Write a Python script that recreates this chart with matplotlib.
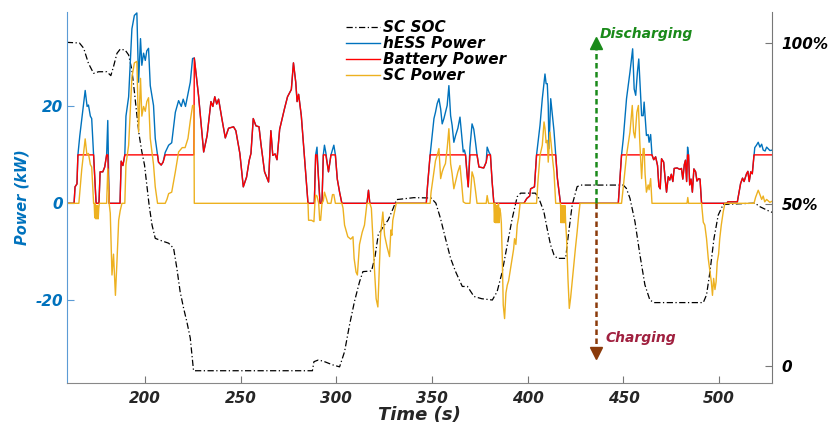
from __future__ import annotations

import matplotlib

matplotlib.use("Agg")
import matplotlib.pyplot as plt


# (time s, kW) samples for each power trace, (time s, %) for the supercapacitor SOC
HESS_POINTS = [
    (159, 0), (163, 0), (163.5, 3.4), (164.5, 4), (165, 10), (166, 14), (167.5, 19), (168.8, 23.3),
    (169.8, 20), (170.5, 20.3), (171.5, 18), (172.2, 17.5), (173.2, 10), (174.5, 0), (176, 0),
    (176.6, 6.5), (178, 6.5), (179, 7.5), (180, 10), (180.6, 17.1), (181.3, 0), (187, 0),
    (187.6, 8.7), (188.5, 7.8), (189.5, 10), (190.1, 18), (191.5, 22), (193.2, 36), (194.5, 38.8),
    (195.8, 39.3), (196.7, 25), (197.7, 34), (198.4, 28.5), (199.3, 31), (200.2, 29.5), (201, 31.5),
    (201.9, 32), (202.8, 24.3), (204.5, 20.2), (205.4, 13.4), (206.6, 10), (207.1, 8.5), (208.5, 7.9),
    (209.5, 8.5), (210.6, 10.5), (212.4, 12), (214, 12.5), (215.9, 18.8), (217.6, 21.2), (219, 20),
    (220, 21.5), (221.2, 20), (222.5, 22.6), (223.7, 25), (224.9, 29.9), (225.8, 30), (228, 22.3),
    (230.7, 10.6), (232.5, 14), (234.5, 21), (235.5, 20), (236.5, 22), (237.5, 20.5), (238.5, 21.5),
    (240.2, 17.5), (242, 13.5), (243.7, 15.5), (246.3, 15.8), (247.5, 15), (249.6, 10.3), (251.4, 3.4),
    (253.1, 5.4), (254.5, 8.9), (255.4, 10.3), (256.6, 17.5), (258, 16), (259.6, 15.8), (260.7, 12),
    (262.5, 6.5), (264.6, 4.4), (265.8, 15), (266.8, 9.9), (268, 10.2), (269, 9), (270.4, 15.3),
    (272.9, 19.5), (274.5, 22), (276.5, 23.5), (277.6, 29), (278.8, 25), (279.5, 21), (280.3, 22.5),
    (281.7, 18.1), (283.4, 9.2), (285.2, 0), (288.5, 0), (289.2, 10), (289.9, 11.6), (290.8, 4.4),
    (291.5, 0), (292.5, 0), (293.2, 10), (293.8, 12), (294.5, 10.5), (295.9, 6.5), (297.2, 10),
    (298.7, 12), (299.5, 10), (300.5, 5), (301.7, 2.3), (302.9, 0), (316, 0), (316.8, 2.7),
    (317.5, 0), (347, 0), (347.6, 3.4), (349, 10), (351, 17.5), (351.8, 18.8), (352.7, 20.6),
    (353.6, 21.6), (354.5, 19.5), (355.3, 16.4), (356.2, 17.5), (357, 18.8), (357.9, 20.2),
    (358.8, 24.3), (359.7, 18.1), (360.5, 16.1), (361.4, 12.6), (362.3, 14), (363.5, 15.5),
    (364.6, 17.8), (365.5, 14), (366.3, 10.6), (366.9, 11), (367.5, 10), (368.2, 6.5), (368.9, 3.4),
    (369.8, 11.5), (370.9, 16.4), (371.8, 15.3), (372.7, 12.6), (373.5, 10), (374.5, 7.5), (377, 7.3),
    (378.3, 8.5), (378.8, 11.6), (379.8, 10.5), (380.5, 10), (381.4, 4.4), (382.3, 0), (398, 0),
    (399.5, 1), (401, 1.5), (401.5, 3), (403.5, 3.4), (404.6, 10), (406.4, 16.1), (407.6, 21.6),
    (408.5, 25), (409, 26.7), (409.6, 24.7), (410.2, 24.7), (410.7, 20.2), (411.1, 11.3), (412, 21.6),
    (412.9, 18), (413.7, 15), (414.6, 10), (415.5, 5.1), (417.1, 0), (447.3, 0), (449, 10),
    (449.9, 13.3), (451.6, 21.6), (453.4, 27.1), (454.2, 29.8), (454.8, 31.9), (455.6, 23.6),
    (456.4, 22.3), (457.3, 27.1), (458, 29.8), (458.5, 26), (459.5, 18.1), (460.3, 18.1),
    (460.8, 20.9), (461.3, 18.1), (462, 14), (462.9, 14.2), (463.4, 12.6), (464.2, 14.2), (464.9, 10),
    (465.8, 9), (466.8, 9.6), (467.8, 7.8), (468.5, 3.5), (469.2, 3.0), (469.9, 9.2), (471, 8.5),
    (471.8, 5), (472.5, 2.3), (473.4, 5.5), (474.2, 4.8), (475, 6), (475.8, 4.5), (476.5, 7.2),
    (478, 7.3), (479.5, 7), (480.3, 7.2), (481, 5), (481.8, 8), (482.4, 8.9), (483, 4.5),
    (483.5, 11.6), (484, 10), (484.6, 3.8), (485.3, 5), (486, 2.3), (486.8, 7.1), (487.7, 6.5),
    (488.4, 4.6), (489.3, 5.1), (490, 5), (490.8, 0), (504, 0), (504.5, 0.3), (509.5, 0.3),
    (510.4, 2.3), (511.2, 4.1), (512.2, 5.2), (513, 4.5), (514.3, 6.1), (515, 6.6), (515.7, 4.5),
    (516.5, 6.5), (517.3, 6.1), (518.2, 10), (518.6, 11.5), (519.5, 12), (520.4, 12.6), (521.3, 11.6),
    (522.2, 12.2), (523, 11), (524, 10.8), (524.8, 11.6), (526.5, 10.9), (528, 11),
]

BATTERY_POINTS = [
    (159, 0), (163, 0), (163.5, 3.4), (164.5, 4), (165, 10), (173.2, 10), (174.5, 0), (176, 0),
    (176.6, 6.5), (178, 6.5), (179, 7.5), (180, 10), (180.6, 10), (181.3, 0), (187, 0), (187.6, 8.7),
    (188.5, 7.8), (189.5, 10), (206.6, 10), (207.1, 8.5), (208.5, 7.9), (209.5, 8.5), (210.6, 10),
    (225.6, 10), (225.8, 30), (228, 22.3), (230.7, 10.6), (232.5, 14), (234.5, 21), (235.5, 20),
    (236.5, 22), (237.5, 20.5), (238.5, 21.5), (240.2, 17.5), (242, 13.5), (243.7, 15.5),
    (246.3, 15.8), (247.5, 15), (249.6, 10.3), (251.4, 3.4), (253.1, 5.4), (254.5, 8.9), (255.4, 10.3),
    (256.6, 17.5), (258, 16), (259.6, 15.8), (260.7, 12), (262.5, 6.5), (264.6, 4.4), (265.8, 15),
    (266.8, 9.9), (268, 10.2), (269, 9), (270.4, 15.3), (272.9, 19.5), (274.5, 22), (276.5, 23.5),
    (277.6, 29), (278.8, 25), (279.5, 21), (280.3, 22.5), (281.7, 18.1), (283.4, 9.2), (285.2, 0),
    (288.5, 0), (289.2, 10), (289.9, 10), (290.8, 4.4), (291.5, 0), (292.5, 0), (293.2, 10),
    (294.5, 10), (295.9, 6.5), (297.2, 10), (299.5, 10), (300.5, 5), (301.7, 2.3), (302.9, 0),
    (316, 0), (316.8, 2.7), (317.5, 0), (347, 0), (347.6, 3.4), (349, 10), (367.5, 10), (368.2, 6.5),
    (368.9, 3.4), (369.8, 10), (373.5, 10), (374.5, 7.5), (377, 7.3), (378.3, 8.5), (379, 10),
    (380.5, 10), (381.4, 4.4), (382.3, 0), (398, 0), (399.5, 1), (401, 1.5), (401.5, 3), (403.5, 3.4),
    (404.6, 10), (414.6, 10), (415.5, 5.1), (417.1, 0), (447.3, 0), (449, 10), (464.9, 10),
    (465.8, 9), (466.8, 9.6), (467.8, 7.8), (468.5, 3.5), (469.2, 3.0), (469.9, 9.2), (471, 8.5),
    (471.8, 5), (472.5, 2.3), (473.4, 5.5), (474.2, 4.8), (475, 6), (475.8, 4.5), (476.5, 7.2),
    (478, 7.3), (479.5, 7), (480.3, 7.2), (481, 5), (481.8, 8), (482.4, 8.9), (483, 4.5), (483.5, 10),
    (484, 10), (484.6, 3.8), (485.3, 5), (486, 2.3), (486.8, 7.1), (487.7, 6.5), (488.4, 4.6),
    (489.3, 5.1), (490, 5), (490.8, 0), (504, 0), (504.5, 0.3), (509.5, 0.3), (510.4, 2.3),
    (511.2, 4.1), (512.2, 5.2), (513, 4.5), (514.3, 6.1), (515, 6.6), (515.7, 4.5), (516.5, 6.5),
    (517.3, 6.1), (518.2, 10), (528, 10),
]

SC_POINTS = [
    (159, 0), (165.5, 0), (167, 7), (168.8, 13.3), (169.7, 10), (170.5, 10.3), (171.5, 8),
    (172.2, 7.5), (173.2, 0), (173.5, 0), (173.8, -3), (174.1, 0), (174.4, -3.2), (174.7, -0.5),
    (175, -3.2), (175.3, -0.5), (175.6, -3.2), (175.9, -1), (176.2, 0), (180, 0), (180.6, 7.1),
    (181.3, 0), (181.9, -2), (182.8, -14.8), (183.6, -10.5), (184.6, -19), (185.4, -12),
    (186.3, -3.5), (187.1, -1.5), (188, 0), (189.5, 0), (190.1, 8), (191.5, 12), (193.2, 26),
    (194.5, 29), (195.8, 29.3), (196.7, 14.7), (197.7, 25.8), (198.4, 18), (199.3, 20), (200.2, 19),
    (201, 21), (201.9, 21.8), (202.8, 13.4), (204.5, 8), (205.4, 3.4), (206.6, 0), (210.6, 0),
    (211.5, 0.8), (212.4, 2), (214, 2.3), (215.9, 6.5), (217.6, 10.6), (219.5, 11.5), (221, 11.5),
    (222.5, 13.4), (223.7, 17), (224.9, 20.2), (225.6, 20.2), (225.8, 0), (285.2, 0), (285.5, -3.5),
    (287, -3.5), (288.3, -3.8), (288.8, 0), (289.2, 1.7), (289.9, 1.5), (290.8, 0), (291.3, -3.5),
    (291.8, -3.5), (292.5, 0), (293.2, 0.5), (293.8, 2.3), (294.8, 1), (295.5, 0), (297.2, 0),
    (298, 1.8), (298.7, 1.8), (299.5, 0), (302.9, 0), (303.5, -1), (304.3, -4.5), (306, -6.9),
    (307.5, -7.4), (308.7, -6.9), (309.3, -11.4), (310.3, -14.2), (311, -14.8), (312.1, -8.5),
    (313.5, -6), (314.7, -4.5), (316, 0), (317.5, 0), (318.3, -1), (319.1, -7.3), (320, -14.2),
    (320.8, -19.7), (321.7, -21.4), (322.4, -14), (323.1, -6.6), (324.3, -1.8), (325.2, -6.6),
    (326.5, -9), (327.8, -11), (328.5, -5.5), (329, -6.6), (329.5, -3.5), (331.3, 0), (349, 0),
    (349.5, 2.3), (351, 6.5), (351.8, 8.8), (352.7, 9.9), (353.6, 11.3), (354.5, 5.1), (355.3, 6.5),
    (356.2, 7.5), (357, 8.2), (357.9, 11.3), (358.8, 15.4), (359.7, 8.2), (360.5, 6.1), (361.4, 3),
    (362.3, 4.5), (363.5, 6.5), (364.6, 7.8), (365.5, 4), (366.3, 0.3), (367.5, 0), (369.8, 0),
    (370.9, 6.5), (371.8, 5.3), (372.7, 2.6), (373.5, 0), (378.3, 0), (378.8, 1.6), (379.5, 0),
    (382.3, 0), (382.6, -3.9), (382.9, 0), (383.2, -4), (383.5, -0.5), (383.8, -4), (384.1, -0.5),
    (384.4, -4), (384.7, 0), (385, -4), (385.3, -1), (385.8, -2), (386.2, -4), (386.7, -11.4),
    (387.2, -21), (387.9, -23.8), (388.6, -18.5), (389.3, -16.9), (390, -16), (391, -13.5),
    (391.8, -11.5), (392.6, -9.5), (393.1, -7.3), (393.8, -8.5), (394.5, -4.5), (395.2, -3), (396, 0),
    (404.6, 0), (405.3, 4.4), (406.4, 9.9), (407.6, 12), (408.5, 16.8), (409, 15.5), (409.6, 12.5),
    (410.2, 13), (410.7, 8.5), (411.1, 11.3), (411.6, 14.7), (412.3, 12), (413, 9), (413.7, 6.5),
    (414.6, 0), (417.1, 0), (417.4, -4), (417.7, -0.5), (418, -4), (418.3, -0.5), (418.6, -4),
    (418.9, -0.5), (419.2, -4), (419.5, -0.5), (419.8, -4), (420.3, -7.3), (421, -15.5),
    (421.7, -21.7), (422.4, -19.5), (423.2, -16.2), (424, -13), (424.9, -9.3), (425.8, -5.9),
    (426.6, -2.5), (427.3, 0), (449, 0), (449.9, 3.3), (451.6, 9.9), (453.4, 14.7), (454.6, 20.2),
    (455.3, 14.7), (456, 13.5), (457, 18.8), (457.8, 20.2), (458.5, 13), (459.5, 5.1), (460.3, 11.3),
    (460.8, 11.3), (461.3, 6), (462, 2.3), (462.9, 3.8), (463.4, 2.8), (464.2, 5.1), (464.9, 0),
    (483.2, 0), (483.6, 1.2), (484, 0), (490.8, 0), (491.7, -3.9), (492.5, -4.5), (493.4, -7.3),
    (494.3, -11.4), (495.2, -14.2), (495.9, -16.2), (496.5, -19), (497.1, -15.5), (497.8, -17.8),
    (498.4, -16.2), (499, -12.1), (499.7, -10.5), (500.3, -7.3), (501.1, -4.5), (502.1, -1.8),
    (503, 0), (518.2, 0), (519, 1.2), (520.4, 2.7), (521.3, 1.8), (522.2, 0.8), (523, 1.5),
    (523.8, 0.3), (524.8, 0.8), (526.5, 0.2), (528, 0.5),
]

SOC_POINTS = [
    (159.2, 100.2), (165.8, 100), (168, 98.4), (170.5, 93.7), (173.2, 90.6), (175.8, 91.1),
    (180.1, 91.1), (182.2, 89.9), (183.6, 92.7), (185.4, 96.8), (187.1, 98.1), (189.7, 97.8),
    (191.5, 96.3), (193.2, 91.6), (194.6, 84.4), (195.8, 77.7), (197, 71.5), (198.4, 66.3),
    (199.8, 62.2), (201, 56), (202.2, 49.8), (203.7, 43.7), (205.4, 39.5), (208.9, 38.7),
    (212.4, 38), (215, 36.4), (216.7, 30.2), (218.4, 23), (220.2, 17.9), (221.9, 13.7),
    (223.7, 8.6), (225.4, -1.5), (287.5, -1.5), (288.3, 1.3), (290.5, 1.8), (293, 1.5), (296, 0.8),
    (298.2, 0.3), (301.7, -0.3), (304.3, 4.4), (306.9, 12.7), (309.5, 20), (312.1, 26),
    (313.9, 29.2), (318.4, 29.4), (320.2, 33.8), (321.9, 40.6), (324.5, 43.1), (327.1, 45.2),
    (329.7, 48.8), (331.5, 51.5), (340.5, 52.1), (349.5, 52), (352, 50.4), (354.4, 45.7),
    (357, 39.5), (359.7, 33.3), (362.3, 29.2), (365.8, 24.6), (368.5, 24.6), (371.9, 21.5),
    (376, 20.8), (381.5, 20.4), (384, 23), (386.7, 29.2), (389.3, 37.5), (391.9, 45.7),
    (394.5, 52.4), (396.3, 53.5), (404, 53.5), (405.8, 51.9), (408.4, 47.8), (410.1, 42.6),
    (411.9, 37.5), (413.7, 34.4), (415.4, 33.3), (419.8, 33.3), (421, 39.5), (423.2, 49.8),
    (425.8, 55.5), (427.6, 56), (449.9, 56), (451.5, 55), (453.4, 51.9), (456, 44.7), (458.6, 34.4),
    (461.2, 25.1), (463.8, 20.4), (466, 19.6), (491.7, 19.6), (493.4, 22), (495.2, 29.2),
    (497.3, 39.5), (499.5, 46.7), (502.1, 50), (518.7, 50.4), (521.3, 49.3), (526.5, 47.8),
    (528, 47.5),
]

SOC_TICKS = [0, 50, 100]
SOC_TICK_LABELS = ["0", "50%", "100%"]
POWER_TICKS = [-20, 0, 20]
TIME_TICKS = [200, 250, 300, 350, 400, 450, 500]
ARROW_TIME = 435.6

BLUE = "#0072BD"
RED = "#FF0000"
ORANGE = "#EDB120"
BOLD_ITALIC = {"fontweight": "bold", "fontstyle": "italic"}


def unzip(points):
    xs, ys = zip(*points)
    return list(xs), list(ys)


def main() -> None:
    plt.rcParams["axes.unicode_minus"] = False
    fig = plt.figure(figsize=(8.32, 4.25), dpi=100)
    ax = fig.add_axes([67 / 832, 1 - 383 / 425, 705 / 832, 371 / 425])
    ax2 = ax.twinx()
    ax.set_zorder(ax2.get_zorder() + 1)
    ax.patch.set_visible(False)

    soc_t, soc = unzip(SOC_POINTS)
    (soc_line,) = ax2.plot(soc_t, soc, color="black", linestyle=(0, (5, 2, 1, 2)), linewidth=0.9, label="SC SOC")

    hess_t, hess = unzip(HESS_POINTS)
    batt_t, batt = unzip(BATTERY_POINTS)
    sc_t, sc = unzip(SC_POINTS)
    (hess_line,) = ax.plot(hess_t, hess, color=BLUE, linewidth=1.0, label="hESS Power")
    (batt_line,) = ax.plot(batt_t, batt, color=RED, linewidth=1.0, label="Battery Power")
    (sc_line,) = ax.plot(sc_t, sc, color=ORANGE, linewidth=1.0, label="SC Power")

    # charge / discharge direction markers
    ax.plot([ARROW_TIME, ARROW_TIME], [0, 32.5], color="#1A8A1A", linestyle=(0, (2.2, 1.4)), linewidth=1.8)
    ax.plot([ARROW_TIME], [33.2], marker="^", markersize=8, color="#1A8A1A", linestyle="none")
    ax.plot([ARROW_TIME, ARROW_TIME], [0, -30.5], color="#8B3A0A", linestyle=(0, (2.2, 1.4)), linewidth=1.8)
    ax.plot([ARROW_TIME], [-31.0], marker="v", markersize=8, color="#8B3A0A", linestyle="none")
    ax.text(437.5, 35.0, "Discharging", color="#1A8A1A", fontsize=10, va="center", ha="left", **BOLD_ITALIC)
    ax.text(440.5, -27.9, "Charging", color="#A0203F", fontsize=10, va="center", ha="left", **BOLD_ITALIC)

    ax.set_xlim(159.3, 527.6)
    ax.set_ylim(-37.1, 39.5)
    ax2.set_ylim(-5.3, 109.6)

    ax.set_xticks(TIME_TICKS)
    ax.set_yticks(POWER_TICKS)
    ax2.set_yticks(SOC_TICKS)
    ax2.set_yticklabels(SOC_TICK_LABELS)

    for label in ax.get_xticklabels():
        label.set(fontsize=11, color="#262626", **BOLD_ITALIC)
    for label in ax.get_yticklabels():
        label.set(fontsize=11, color=BLUE, **BOLD_ITALIC)
    for label in ax2.get_yticklabels():
        label.set(fontsize=11, color="black", **BOLD_ITALIC)

    ax.tick_params(axis="x", direction="in", length=5, width=0.8, color="#777777", pad=6)
    ax.tick_params(axis="y", direction="in", length=5, width=0.8, color="#5B9BD5", pad=3)
    ax2.tick_params(axis="y", direction="in", length=5, width=0.8, color="#777777", pad=7)

    ax.set_xlabel("Time (s)", fontsize=13, color="#262626", labelpad=0, **BOLD_ITALIC)
    ax.set_ylabel("Power (kW)", fontsize=10.5, color=BLUE, labelpad=4, **BOLD_ITALIC)

    for axis in (ax, ax2):
        axis.spines["top"].set_visible(False)
    ax.spines["left"].set_color("#5B9BD5")
    ax.spines["bottom"].set_color("#888888")
    ax2.spines["right"].set_color("#777777")
    ax2.spines["left"].set_visible(False)
    ax2.spines["bottom"].set_visible(False)
    ax.spines["right"].set_visible(False)

    ax.legend(
        handles=[soc_line, hess_line, batt_line, sc_line],
        loc="upper left",
        bbox_to_anchor=(346 / 832, 1 - 20 / 425),
        bbox_transform=fig.transFigure,
        frameon=False,
        prop={"size": 11, "weight": "bold", "style": "italic"},
        handlelength=2.2,
        handletextpad=0.25,
        labelspacing=0.07,
        borderpad=0,
        borderaxespad=0,
    )

    fig.savefig("out.png", dpi=100)
    plt.close(fig)


if __name__ == "__main__":
    main()
